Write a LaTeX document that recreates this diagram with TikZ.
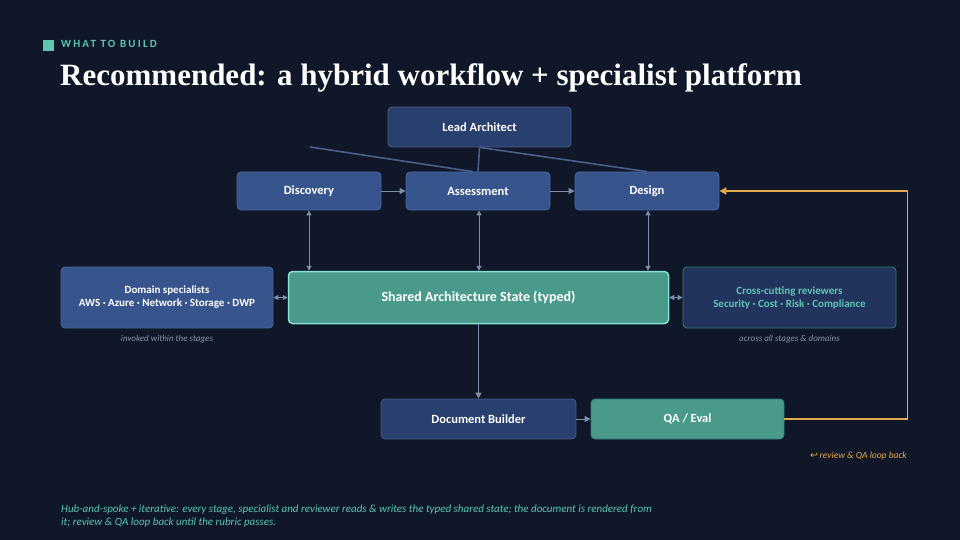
\documentclass[tikz,border=0pt]{standalone}
\usepackage{fontspec}
\setmainfont{Carlito}
\newfontfamily\titlefont{Liberation Serif}
\newfontfamily\symfont{DejaVu Sans}
\usetikzlibrary{arrows.meta, positioning}

\definecolor{bgnavy}{HTML}{0F1729}
\definecolor{stagefill}{HTML}{37558C}
\definecolor{stageedge}{HTML}{4A66A0}
\definecolor{leadfill}{HTML}{293F6E}
\definecolor{statefill}{HTML}{4A9A8C}
\definecolor{stateedge}{HTML}{86E0CF}
\definecolor{reviewfill}{HTML}{22335E}
\definecolor{reviewedge}{HTML}{2F7F78}
\definecolor{tealtext}{HTML}{5CC6B1}
\definecolor{linkgray}{HTML}{7E8CAE}
\definecolor{leadline}{HTML}{4A5F8C}
\definecolor{loopgold}{HTML}{E2A94C}
\definecolor{captiongray}{HTML}{8A93A8}

\tikzset{
  box/.style={rounded corners=4pt, align=center, inner sep=0pt, text=white,
    font=\bfseries\fontsize{12.5}{14}\selectfont, line width=0.8pt},
  stagebox/.style={box, fill=stagefill, draw=stageedge},
  leadbox/.style={box, fill=leadfill, draw=leadfill!85!white},
  statebox/.style={box, fill=statefill, draw=stateedge, line width=1.5pt},
  reviewbox/.style={box, fill=reviewfill, draw=reviewedge, text=tealtext},
  link/.style={draw=linkgray, line width=1pt, -{Triangle[length=6pt,width=6pt]}},
  duallink/.style={link, {Triangle[length=5pt,width=5pt]}-{Triangle[length=5pt,width=5pt]}},
  leadlink/.style={draw=leadline, line width=1.6pt},
  looplink/.style={draw=loopgold, line width=1.8pt, -{Triangle[length=7pt,width=7pt]}},
  caption/.style={text=captiongray, font=\itshape\fontsize{9}{11}\selectfont}
}

\begin{document}
\begin{tikzpicture}[x=1pt, y=-1pt]

% Canvas
\fill[bgnavy] (0,0) rectangle (960,540);
\useasboundingbox (0,0) rectangle (960,540);

% Header
\node[fill=tealtext, minimum size=11pt, inner sep=0pt] (kicker) at (48.5,45.5) {};
\node[anchor=west, text=tealtext, inner sep=0pt,
  font=\bfseries\fontsize{11}{13}\selectfont\addfontfeatures{LetterSpace=20}] (kickertext) at (61,43.5) {WHAT TO BUILD};
\node[anchor=west, text=white, inner sep=0pt,
  font=\titlefont\bfseries\fontsize{31}{34}\selectfont] (title) at (60,78) {Recommended: a hybrid workflow + specialist platform};

% Lead and stages
\node[leadbox, minimum width=183pt, minimum height=40pt] (lead) at (479.5,127) {Lead Architect};
\node[stagebox, minimum width=144pt, minimum height=38pt] (disc) at (309,191) {Discovery};
\node[stagebox, minimum width=144pt, minimum height=38pt] (assess) at (478,191) {Assessment};
\node[stagebox, minimum width=144pt, minimum height=38pt] (design) at (647,191) {Design};

% Hub row
\node[stagebox, minimum width=212pt, minimum height=61pt, font=\bfseries\fontsize{11}{13}\selectfont] (domain) at (167,297.5)
  {Domain specialists\\AWS · Azure · Network · Storage · DWP};
\node[statebox, minimum width=380pt, minimum height=52pt, font=\bfseries\fontsize{14}{16}\selectfont] (state) at (478.5,297.5)
  {Shared Architecture State (typed)};
\node[reviewbox, minimum width=213pt, minimum height=61pt, font=\bfseries\fontsize{11}{13}\selectfont] (review) at (789.5,297.5)
  {Cross-cutting reviewers\\Security · Cost · Risk · Compliance};
\node[caption] (domainnote) at (167,339) {invoked within the stages};
\node[caption] (reviewnote) at (789.5,339) {across all stages \& domains};

% Output row
\node[leadbox, minimum width=195pt, minimum height=40pt] (builder) at (478.5,419) {Document Builder};
\node[box, fill=statefill, draw=reviewedge, minimum width=193pt, minimum height=40pt] (qa) at (687.5,419) {QA / Eval};

% Lead Architect lines
\coordinate (leadstub) at (310,147);
\draw[leadlink] (leadstub) -- ([xshift=-5pt]assess.north);
\draw[leadlink] (lead.south) -- (assess.north);
\draw[leadlink] (lead.south) -- (design.north);

% Stage flow
\draw[link] (disc) -- (assess);
\draw[link] (assess) -- (design);

% Spokes
\draw[duallink] (disc.south) -- (disc.south |- state.north);
\draw[duallink] ([xshift=1pt]assess.south) -- ([xshift=1pt]assess.south |- state.north);
\draw[duallink] ([xshift=1pt]design.south) -- ([xshift=1pt]design.south |- state.north);
\draw[duallink] (domain) -- (state);
\draw[duallink] (state) -- (review);
\draw[link] (state.south) -- (builder.north);
\draw[link] (builder) -- (qa);

% Review loop
\draw[looplink] (qa.east) -- ++(123,0) |- (design.east);
\node[anchor=east, text=loopgold, inner sep=0pt, font=\itshape\fontsize{9.5}{11}\selectfont] (loopnote) at (907,456)
  {{\symfont\upshape ↩}\,review \& QA loop back};

% Footnote
\node[anchor=north west, inner sep=0pt, align=left, text=tealtext, font=\itshape\fontsize{11}{13}\selectfont] (footnote) at (61,505)
  {Hub-and-spoke + iterative: every stage, specialist and reviewer reads \& writes the typed shared state; the document is rendered from\\it; review \& QA loop back until the rubric passes.};

\end{tikzpicture}
\end{document}
